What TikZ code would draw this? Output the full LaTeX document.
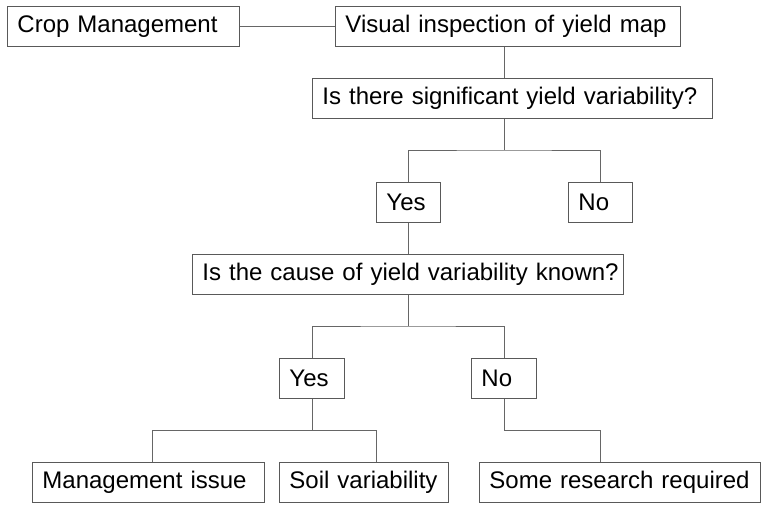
\documentclass[tikz,border=0pt]{standalone}
\usepackage{fontspec}
\setmainfont{Liberation Sans}
\usetikzlibrary{positioning, calc}

\begin{document}
\begin{tikzpicture}[
    x=1pt, y=-1pt,
    font=\fontsize{24}{28}\selectfont,
    % Styles
    box/.style={
        draw=black!65,
        line width=0.9pt,
        rectangle,
        anchor=north west,
        inner xsep=10pt,
        inner ysep=0pt,
        minimum height=40pt,
        text width=#1,
        align=left
    },
    link/.style={draw=black!60, line width=0.9pt}
]
    \useasboundingbox (0,0) rectangle (764,504);

    % --- TOP ROW ---
    \node[box=212pt] (crop) at (7,6) {Crop Management};
    \node[box=325pt] (visual) at (335,6) {Visual inspection of yield map};

    % --- FIRST QUESTION ---
    \node[box=380pt] (sig) at (312,78) {Is there significant yield variability?};
    \node[box=44pt] (yesA) at (376,182) {Yes};
    \node[box=44pt] (noA) at (568,182) {No};

    % --- SECOND QUESTION ---
    \node[box=411pt] (cause) at (192,254) {\mbox{Is the cause of yield variability known?}};
    \node[box=45pt] (yesB) at (279,358) {Yes};
    \node[box=45pt] (noB) at (471,358) {No};

    % --- OUTCOMES ---
    \node[box=212pt] (mgmt) at (32,462) {Management issue};
    \node[box=149pt] (soil) at (279,462) {Soil variability};
    \node[box=261pt] (research) at (479,462) {Some research required};

    % --- BRANCH POINTS ---
    \coordinate (splitA) at (504,150);
    \coordinate (splitB) at (408,326);
    \coordinate (mgmtTop) at (152,430);
    \coordinate (soilTop) at (376,430);
    \coordinate (resTop) at (600,430);

    % --- CONNECTORS ---
    \draw[link] (crop.east) -- (visual.west);
    \draw[link] (visual.south -| splitA) -- (sig.north -| splitA);
    \draw[link] (sig.south -| splitA) -- (splitA);
    \draw[link] (yesA.north) |- (splitA) -| (noA.north);
    \draw[link] (yesA.south) -- (cause.north -| yesA.south);
    \draw[link] (cause.south -| splitB) -- (splitB);
    \draw[link] (yesB.north) |- (splitB) -| (noB.north);
    \draw[link] (yesB.south) -- (yesB.south |- mgmtTop);
    \draw[link] (mgmt.north -| mgmtTop) -- (mgmtTop) -- (soilTop) -- (soil.north -| soilTop);
    \draw[link] (noB.south) |- (resTop) -- (research.north -| resTop);

\end{tikzpicture}
\end{document}
